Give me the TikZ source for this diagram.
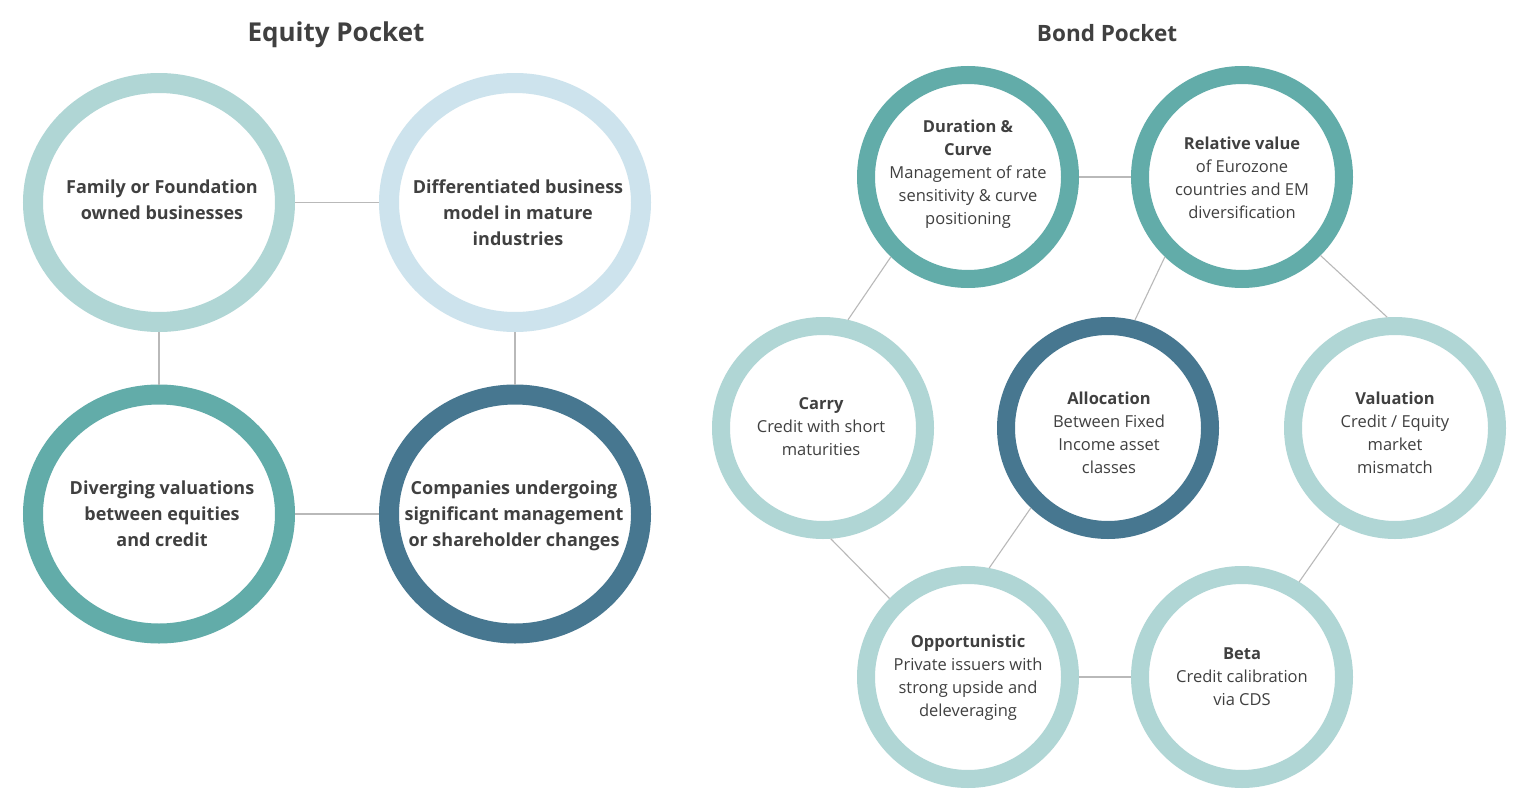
\documentclass[tikz,border=0pt]{standalone}
\usepackage{fontspec}
\usetikzlibrary{shapes.geometric}
\setmainfont{Open Sans}
\definecolor{ltteal}{RGB}{176,214,213}
\definecolor{ltblue}{RGB}{205,227,237}
\definecolor{teal2}{RGB}{98,172,169}
\definecolor{dkblue}{RGB}{71,119,144}
\definecolor{txt}{RGB}{64,64,64}
\definecolor{conn}{RGB}{185,185,185}
\tikzset{
  eqring/.style={ellipse, draw=#1, line width=20pt, minimum width=252pt, minimum height=239pt, inner sep=0pt, fill=white},
  bdring/.style={circle, draw=#1, line width=18pt, minimum size=204pt, inner sep=0pt, fill=white},
  eqtext/.style={align=center, text=txt, inner sep=0pt, font=\fontsize{18}{26}\selectfont\bfseries},
  bdtext/.style={align=center, text=txt, inner sep=0pt, font=\fontsize{16.5}{23}\selectfont},
  ttl/.style={text=txt, inner sep=0pt, font=\bfseries\fontsize{#1}{#1}\selectfont},
  link/.style={draw=conn, line width=1.1pt}
}
\begin{document}
\begin{tikzpicture}[x=1pt,y=-1pt]
\useasboundingbox[fill=white] (0,0) rectangle (1540,803);
% titles
\node[ttl=26] (teq) at (336,35) {Equity Pocket};
\node[ttl=22.5] (tbd) at (1107,33) {Bond Pocket};
% equity circles
\node[eqring=ltteal] (fam) at (159,202.5) {};
\node[eqring=ltblue] (dif) at (515,202.5) {};
\node[eqring=teal2] (div) at (159,514) {};
\node[eqring=dkblue] (com) at (515,514) {};
\draw[link] (fam) -- (dif);
\draw[link] (fam) -- (div);
\draw[link] (dif) -- (com);
\draw[link] (div) -- (com);
\node[eqtext] (famt) at (162,200) {Family or Foundation\\owned businesses};
\node[eqtext] (dift) at (518,213) {Differentiated business\\model in mature\\industries};
\node[eqtext] (divt) at (162,514) {Diverging valuations\\between equities\\and credit};
\node[eqtext] (comt) at (514,516) {Companies undergoing\\significant management\\or shareholder changes};
% bond circles
\node[bdring=teal2] (dur) at (968,177) {};
\node[bdring=teal2] (rel) at (1242,177) {};
\node[bdring=ltteal] (car) at (823,428) {};
\node[bdring=dkblue] (all) at (1108,428) {};
\node[bdring=ltteal] (val) at (1395,428) {};
\node[bdring=ltteal] (opp) at (968,677) {};
\node[bdring=ltteal] (bet) at (1242,677) {};
\draw[link] (dur) -- (rel);
\draw[link] (dur.226) -- (car.77);
\draw[link] (rel.226) -- (all.76);
\draw[link] (rel.-45) -- (val.94);
\draw[link] (car.-86) -- (opp.135);
\draw[link] (all.-134) -- (opp.79);
\draw[link] (val.-120) -- (bet.59);
\draw[link] (opp) -- (bet);
\node[bdtext] (durt) at (968,174) {\textbf{Duration \&}\\\textbf{Curve}\\Management of rate\\sensitivity \& curve\\positioning};
\node[bdtext] (relt) at (1242,177.5) {\textbf{Relative value}\\of Eurozone\\countries and EM\\diversification};
\node[bdtext] (cart) at (821,426.5) {\textbf{Carry}\\Credit with short\\maturities};
\node[bdtext] (allt) at (1109,432.5) {\textbf{Allocation}\\Between Fixed\\Income asset\\classes};
\node[bdtext] (valt) at (1395,432.5) {\textbf{Valuation}\\Credit / Equity\\market\\mismatch};
\node[bdtext] (oppt) at (968,678) {\textbf{Opportunistic}\\Private issuers with\\strong upside and\\deleveraging};
\node[bdtext] (bett) at (1242,676.5) {\textbf{Beta}\\Credit calibration\\via CDS};
\end{tikzpicture}
\end{document}
